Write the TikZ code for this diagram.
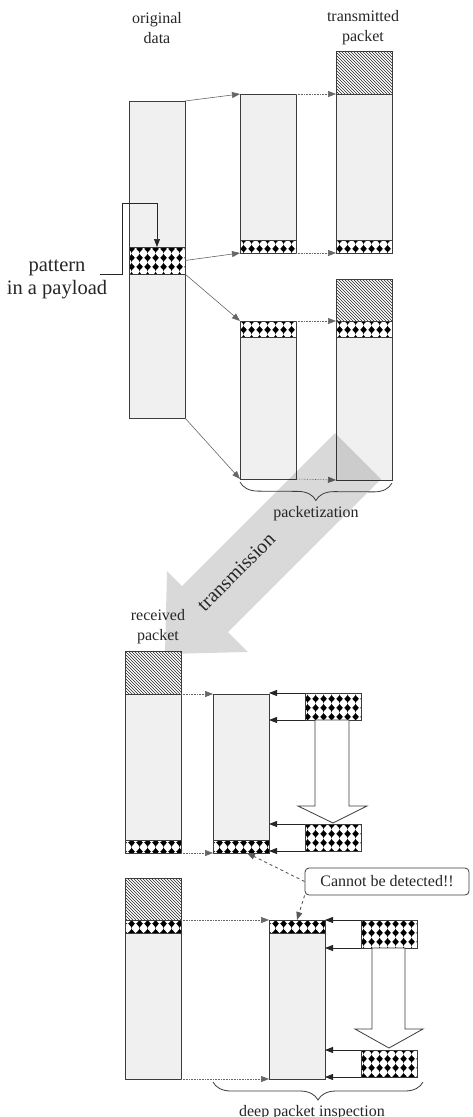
\documentclass[tikz,border=0pt]{standalone}
\usepackage{fontspec}
\setmainfont{Liberation Serif}
\usetikzlibrary{arrows.meta, positioning, calc, patterns, decorations.pathreplacing}
\definecolor{pktfill}{HTML}{F0F0F0}
\definecolor{pktline}{HTML}{3C3C3C}
\definecolor{txgray}{HTML}{D9D9D9}
\pgfdeclarepatternformonly{diamonds}{\pgfqpoint{0pt}{0pt}}{\pgfqpoint{8pt}{9pt}}{\pgfqpoint{8pt}{9pt}}{
  \pgfsetlinewidth{0.5pt}
  \pgfpathmoveto{\pgfqpoint{4pt}{0pt}}\pgfpathlineto{\pgfqpoint{4pt}{9pt}}
  \pgfpathmoveto{\pgfqpoint{0pt}{4.5pt}}\pgfpathlineto{\pgfqpoint{8pt}{4.5pt}}
  \pgfusepath{stroke}
  \pgfpathmoveto{\pgfqpoint{4pt}{0.6pt}}
  \pgfpathcurveto{\pgfqpoint{5pt}{2.4pt}}{\pgfqpoint{6pt}{3.5pt}}{\pgfqpoint{7.4pt}{4.5pt}}
  \pgfpathcurveto{\pgfqpoint{6pt}{5.5pt}}{\pgfqpoint{5pt}{6.6pt}}{\pgfqpoint{4pt}{8.4pt}}
  \pgfpathcurveto{\pgfqpoint{3pt}{6.6pt}}{\pgfqpoint{2pt}{5.5pt}}{\pgfqpoint{0.6pt}{4.5pt}}
  \pgfpathcurveto{\pgfqpoint{2pt}{3.5pt}}{\pgfqpoint{3pt}{2.4pt}}{\pgfqpoint{4pt}{0.6pt}}
  \pgfpathclose
  \pgfusepath{fill}
  \pgfpathcircle{\pgfqpoint{4pt}{4.5pt}}{2.6pt}
  \pgfusepath{fill}
}

\begin{document}
\begin{tikzpicture}[x=1pt, y=-1pt,
  pkt/.style={draw=pktline, line width=0.8pt, fill=pktfill, minimum width=56pt,
              inner sep=0pt, outer sep=0pt, anchor=north west},
  hdr/.style={pkt, preaction={fill=white}, pattern=north west lines, pattern color=black!85},
  pat/.style={pkt, preaction={fill=white}, pattern=diamonds, pattern color=black},
  lbl/.style={font=\fontsize{16}{20}\selectfont, align=center, text=black!85},
  fan/.style={-{Triangle[length=8pt,width=6pt]}, gray!80!black, line width=0.6pt},
  hop/.style={fan, densely dotted},
  scan/.style={-{Triangle[length=8pt,width=6pt]}, black!85, line width=0.8pt},
  note/.style={-{Triangle[length=8pt,width=6pt]}, dashed, gray!70!black, line width=0.9pt},
  brc/.style={decorate, decoration={brace, mirror, amplitude=18pt}, pktline, line width=0.8pt},
  hollow/.style={draw=pktline, line width=0.8pt, fill=white}
]
  \useasboundingbox (0,0) rectangle (473,1117);

  % packetization
  \node[lbl] (lorig) at (157,28) {original\\data};
  \node[lbl] (ltx) at (363,28) {transmitted\\packet};
  \node[pkt, minimum height=317pt] (orig) at (129,101) {};
  \node[pat, minimum height=27pt] (p0) at (129,247) {};
  \node[pkt, minimum height=159pt] (a1) at (240,94) {};
  \node[pat, minimum height=13pt] (a1p) at (240,240) {};
  \node[hdr, minimum height=43pt] (b1h) at (336,51) {};
  \node[pkt, minimum height=159pt] (b1) at (336,94) {};
  \node[pat, minimum height=13pt] (b1p) at (336,240) {};
  \node[pkt, minimum height=158pt] (a2) at (240,321) {};
  \node[pat, minimum height=16pt] (a2p) at (240,321) {};
  \node[hdr, minimum height=42pt] (b2h) at (336,279) {};
  \node[pkt, minimum height=159pt] (b2) at (336,321) {};
  \node[pat, minimum height=16pt] (b2p) at (336,321) {};

  \node[lbl, font=\fontsize{20.5}{23}\selectfont] (lpat) at (57,279) {pattern\\in a payload};
  \coordinate (patend) at (100,274);
  \draw[scan, line width=0.7pt] (patend) -- ++(22,0) |- ($(p0.north)+(0,-44)$) -- (p0.north);

  \draw[fan] (orig.north east) -- (a1.north west);
  \draw[fan] (p0.east) -- (a1.south west);
  \draw[fan] (p0.south east) -- (a2.north west);
  \draw[fan] (orig.south east) -- (a2.south west);
  \draw[hop] (a1.north east) -- (b1.north west);
  \draw[hop] (a1.south east) -- (b1.south west);
  \draw[hop] (a2.north east) -- (b2.north west);
  \draw[hop] (a2.south east) -- (b2.south west);

  % transmission
  \fill[txgray, blend mode=multiply] (335,433) -- (182,586) -- (167,571) -- (165,654)
    -- (248,652) -- (228,632) -- (381,479) -- cycle;
  \draw[brc] ($(a2.south west)+(0,3)$) -- ($(b2.south east)+(0,3)$);
  \node[lbl] (lpkz) at (316,514) {packetization};
  \node[lbl, font=\fontsize{20}{24}\selectfont, rotate=45] (ltrn) at (236,572) {transmission};

  % deep packet inspection
  \node[lbl] (lrcv) at (158,627) {received\\packet};
  \node[hdr, minimum height=43pt] (r1h) at (125,651) {};
  \node[pkt, minimum height=159pt] (r1) at (125,694) {};
  \node[pat, minimum height=13pt] (r1p) at (125,840) {};
  \node[pkt, minimum height=159pt] (m1) at (213,694) {};
  \node[pat, minimum height=13pt] (m1p) at (213,840) {};
  \node[pat, minimum height=27pt] (s1) at (305,693) {};
  \node[pat, minimum height=27pt] (s1b) at (305,824) {};

  \node[hdr, minimum height=42pt] (r2h) at (125,878) {};
  \node[pkt, minimum height=159pt] (r2) at (125,920) {};
  \node[pat, minimum height=13pt] (r2p) at (125,920) {};
  \node[pkt, minimum height=159pt] (m2) at (269,920) {};
  \node[pat, minimum height=13pt] (m2p) at (269,920) {};
  \node[pat, minimum height=28pt] (s2) at (361,920) {};
  \node[pat, minimum height=27pt] (s2b) at (361,1050) {};

  \draw[hollow] (315,720) -- (315,806) -- (298,806) -- (333,823) -- (367,806) -- (349,806) -- (349,720) -- cycle;
  \draw[hollow] (372,948) -- (372,1029) -- (355,1029) -- (389,1048) -- (423,1029) -- (405,1029) -- (405,948) -- cycle;

  \draw[hop] (r1.north east) -- (m1.north west);
  \draw[hop] (r1.south east) -- (m1.south west);
  \draw[hop] (r2p.north east) -- (m2.north west);
  \draw[hop] (r2.south east) -- (m2.south west);

  \foreach \s/\m in {s1/m1, s1b/m1, s2/m2, s2b/m2} {
    \draw[scan] (\s.north west) -- (\s.north west -| \m.east);
    \draw[scan] (\s.south west) -- (\s.south west -| \m.east);
  }

  \node[lbl, draw=pktline, line width=0.8pt, rounded corners=4pt, fill=white,
        minimum width=164pt, minimum height=27pt, inner sep=0pt] (cbd) at (387,881.5) {Cannot be detected!!};
  \draw[note] (cbd.west) -- ($(m1.south)+(6,0)$);
  \draw[note] (cbd.south west) -- (m2.north);

  \draw[brc] ($(m1.west |- m2.south)+(0,3)$) -- ($(s2b.east |- m2.south)+(6,3)$);
  \node[lbl, anchor=north] (ldpi) at (312,1102) {deep packet inspection};
\end{tikzpicture}
\end{document}
